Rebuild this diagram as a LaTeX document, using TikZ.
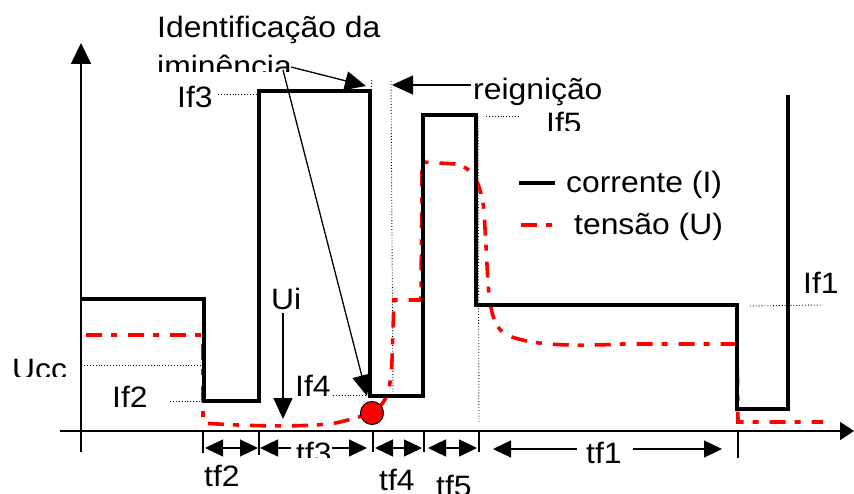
\documentclass[tikz,border=0pt]{standalone}
\usepackage{fontspec}
\setmainfont[FakeStretch=1.08]{Liberation Sans}
\usetikzlibrary{arrows.meta}
\begin{document}
\begin{tikzpicture}[x=1pt,y=-1pt,
  lbl/.style={inner sep=0pt, anchor=base west, font=\fontsize{29.5}{34}\selectfont},
  cur/.style={line width=3.2pt, line join=miter},
  volt/.style={red, line width=3.6pt, dash pattern=on 16pt off 9pt on 6pt off 11pt},
  guide/.style={dotted, line width=0.9pt},
  axisline/.style={line width=1.7pt},
  dimline/.style={line width=1.1pt},
  dimarrow/.style={dimline, {Triangle[length=18pt,width=17pt]}-{Triangle[length=18pt,width=17pt]}},
  dimhead/.style={dimline, -{Triangle[length=18pt,width=17pt]}},
  ptr/.style={line width=1.3pt, -{Triangle[length=21pt,width=19pt]}},
  tickline/.style={line width=1.1pt}]
\useasboundingbox (0,0) rectangle (854,494);

% axes
\coordinate (yb) at (81,452); \coordinate (yt) at (81,43);
\draw[axisline, -{Triangle[length=21pt,width=20pt]}] (yb) -- (yt);
\coordinate (xl) at (60,431); \coordinate (xr) at (854,431);
\draw[axisline, -{Triangle[length=14pt,width=18pt]}] (xl) -- (xr);

% guides
\draw[guide] (218,94) -- (258,94);
\draw[guide] (371,80) -- (371,90);
\draw[guide] (391,81) -- (393,396);
\draw[guide] (486,116) -- (519,116);
\draw[guide] (478,117) -- (479,422);
\draw[guide] (750,306) -- (822,305);
\draw[guide] (84,365) -- (203,365);
\draw[guide] (170,401) -- (203,401);
\draw[guide] (333,395) -- (366,395);

% voltage
\draw[volt] (86,335) -- (203,335) -- (203,423)
  .. controls (240,426) and (315,428) .. (340,422)
  .. controls (352,419) .. (362,416);
\draw[volt] (378,408) .. controls (388,400) and (391,385) .. (392,360)
  -- (394,300) -- (421,300) -- (422,162) -- (455,164)
  .. controls (472,167) and (480,180) .. (484,210)
  -- (488,283) .. controls (491,320) and (496,333) .. (515,338)
  .. controls (540,346) and (580,346) .. (623,344) -- (737,344)
  -- (738,422) -- (823,422);

% current
\draw[cur] (81,299) -- (204,299) -- (204,401) -- (259,401) -- (259,91)
  -- (370,91) -- (370,396) -- (423,396) -- (423,115) -- (476,115)
  -- (476,305) -- (737,305) -- (737,409) -- (788,409) -- (788,95);

% ignition point
\node[circle, fill=red, draw=black, line width=1pt, minimum size=23pt, inner sep=0pt] (ign) at (372,413) {};

% legend
\coordinate (lc1) at (519,183); \coordinate (lc2) at (555,183);
\draw[cur] (lc1) -- (lc2);
\coordinate (lv1) at (521,225); \coordinate (lv2) at (555,225);
\draw[volt] (lv1) -- (lv2);
\node[lbl] (tCor) at (566,193) {corrente (I)};
\node[lbl] (tTen) at (574,235) {tensão (U)};

% labels
\node[lbl] (tIdent) at (157,38) {Identificação da};
\begin{scope}
  \clip (150,46) rectangle (300,72);
  \node[lbl] (tImin) at (157,77) {iminência};
\end{scope}
\node[lbl] (tIf3) at (177,108) {If3};
\node[lbl] (tReig) at (473,100) {reignição};
\begin{scope}
  \clip (540,100) rectangle (600,131);
  \node[lbl] (tIf5) at (546,134) {If5};
\end{scope}
\node[lbl] (tIf1) at (803,294) {If1};
\node[lbl] (tUi) at (271,310) {Ui};
\begin{scope}
  \clip (0,340) rectangle (80,376);
  \node[lbl] (tUcc) at (12,379) {Ucc};
\end{scope}
\node[lbl] (tIf2) at (112,407) {If2};
\node[lbl] (tIf4) at (295,396) {If4};

% pointer arrows
\coordinate (ia) at (291,67); \coordinate (ia2) at (366,86);
\draw[ptr] (ia) -- (ia2);
\coordinate (ib) at (283,70); \coordinate (ib2) at (367,396);
\draw[ptr] (ib) -- (ib2);
\coordinate (ra) at (471,85); \coordinate (ra2) at (392,85);
\draw[ptr] (ra) -- (ra2);
\coordinate (ua) at (283,313); \coordinate (ua2) at (283,419);
\draw[ptr] (ua) -- (ua2);

% time ticks
\foreach \x/\b in {203/453, 259/455, 373/452, 424/452, 479/452, 738/458}
  \draw[tickline] (\x,431) -- (\x,\b);

% time dimensions
\draw[dimarrow] (205,448) -- (258,448);
\draw[dimhead] (291,448) -- (260,448);
\draw[dimhead] (332,448) -- (367,448);
\draw[dimarrow] (375,448) -- (422,448);
\draw[dimarrow] (428,448) -- (477,448);
\draw[dimhead] (577,449) -- (493,449);
\draw[dimhead] (633,449) -- (722,449);

\begin{scope}
  \clip (290,430) rectangle (340,457);
  \node[lbl] (tf3) at (296,463) {tf3};
\end{scope}
\node[lbl] (tf1) at (586,463) {tf1};
\node[lbl] (tf2) at (204,486) {tf2};
\node[lbl] (tf4) at (379,490) {tf4};
\begin{scope}
  \clip (430,460) rectangle (480,494);
  \node[lbl] (tf5) at (436,496) {tf5};
\end{scope}
\end{tikzpicture}
\end{document}
